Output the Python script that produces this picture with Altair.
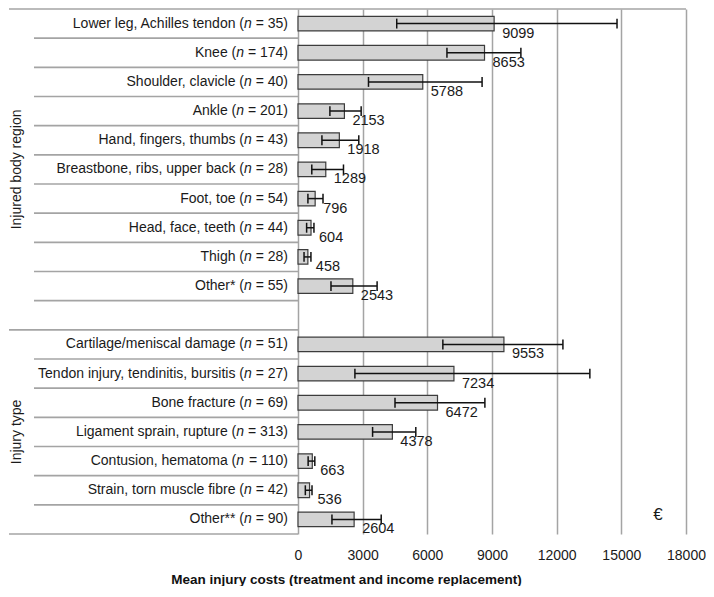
import altair as alt
import pandas as pd

# ---------------- data ----------------
body_regions = ["Lower leg, Achilles tendon", "Knee", "Shoulder, clavicle", "Ankle",
                "Hand, fingers, thumbs", "Breastbone, ribs, upper back", "Foot, toe",
                "Head, face, teeth", "Thigh", "Other*"]
body_n = [35, 174, 40, 201, 43, 28, 54, 44, 28, 55]
body_mean = [9099, 8653, 5788, 2153, 1918, 1289, 796, 604, 458, 2543]
body_lo = [4580, 6910, 3270, 1480, 1110, 640, 460, 400, 280, 1530]
body_hi = [14800, 10340, 8540, 2930, 2820, 2110, 1160, 740, 600, 3670]

injury_types = ["Cartilage/meniscal damage", "Tendon injury, tendinitis, bursitis",
                "Bone fracture", "Ligament sprain, rupture", "Contusion, hematoma",
                "Strain, torn muscle fibre", "Other**"]
type_n = [51, 27, 69, 313, 110, 42, 90]
type_mean = [9553, 7234, 6472, 4378, 663, 536, 2604]
type_lo = [6720, 2640, 4500, 3460, 470, 340, 1575]
type_hi = [12290, 13540, 8670, 5465, 780, 650, 3860]

group_titles = ["Injured body region", "Injury type"]
x_ticks = [0, 3000, 6000, 9000, 12000, 15000, 18000]
axis_title = "Mean injury costs (treatment and income replacement)"

# ---------------- layout / style ----------------
FONT = "Liberation Sans"
FS = 14
W, H = 388, 525
XMAX = 18000
GRID = "#a4a4a4"
TXT = "#1a1a1a"
N1 = len(body_regions)
START2 = N1 + 1               # one blank row between the two groups
NROWS = START2 + len(injury_types)
X0 = -10                      # right end of row labels, px left of the axis
LEFT = -289                   # left end of the group lines, px left of the axis


def px(v):
    """pixel offset from the axis -> x data units (linear scale extrapolates)"""
    return v * XMAX / W


rows = []


def add(labels, ns, means, los, his, start):
    for i, (lab, n, m, lo, hi) in enumerate(zip(labels, ns, means, los, his)):
        r = start + i
        k = len(str(n))
        w_suffix = (584 + 278 + 556 * k + 333) * FS / 1000   # "= NN)" Arial metrics
        x_n = X0 - w_suffix - 278 * FS / 1000
        x_pre = x_n - 556 * FS / 1000
        rows.append(dict(row=r, prefix=f"{lab} (", suffix=f"= {n})", mean=m, lo=lo, hi=hi,
                         zero=0, yc=r + 0.5, y0=r + 0.25, y1=r + 0.75,
                         c0=r + 0.5 - 0.17, c1=r + 0.5 + 0.17,
                         x_suf=px(X0), x_n=px(x_n), x_pre=px(x_pre)))


add(body_regions, body_n, body_mean, body_lo, body_hi, 0)
add(injury_types, type_n, type_mean, type_lo, type_hi, START2)
df = pd.DataFrame(rows)

short_b = [b for b in range(1, NROWS) if b != START2]
long_b = [START2, NROWS]
grp_df = pd.DataFrame({"g": group_titles,
                       "mid": [(0 + START2) / 2, (START2 + NROWS) / 2]})

xs = alt.Scale(domain=[0, XMAX], nice=False, zero=True)
ys = alt.Scale(domain=[0, NROWS], reverse=True, nice=False, zero=False)

xaxis = alt.Axis(values=x_ticks, grid=True, gridColor=GRID, gridWidth=1.5,
                 domain=False, ticks=False, labelFont=FONT, labelFontSize=14,
                 labelColor=TXT, labelPadding=14, labelFlush=False, format="d",
                 title=axis_title, titleFont=FONT, titleFontSize=13.5,
                 titleFontWeight="bold", titleColor="#111111", titleX=48, titleY=38,
                 titleAlign="center", titleBaseline="top", titleAnchor="start")

base = alt.Chart(df)

bars = base.mark_rect(fill="#d3d3d3", stroke="#3c3c3c", strokeWidth=1.2).encode(
    x=alt.X("zero:Q", scale=xs, axis=xaxis), x2="mean:Q",
    y=alt.Y("y0:Q", scale=ys, axis=None), y2="y1:Q")

err = base.mark_rule(color="#111111", strokeWidth=1.5).encode(
    x="lo:Q", x2="hi:Q", y="yc:Q")
cap_lo = base.mark_rule(color="#111111", strokeWidth=1.5).encode(
    x="lo:Q", y="c0:Q", y2="c1:Q")
cap_hi = base.mark_rule(color="#111111", strokeWidth=1.5).encode(
    x="hi:Q", y="c0:Q", y2="c1:Q")

vals = base.mark_text(align="left", baseline="middle", dx=8, dy=10, font=FONT,
                      fontSize=14.5, color=TXT).encode(
    x="mean:Q", y="yc:Q", text=alt.Text("mean:Q", format="d"))

t_pre = base.mark_text(align="right", baseline="middle", font=FONT, fontSize=FS,
                       color=TXT).encode(x="x_pre:Q", y="yc:Q", text="prefix:N")
t_n = base.mark_text(align="right", baseline="middle", font=FONT, fontSize=FS,
                     fontStyle="italic", color=TXT).encode(
    x="x_n:Q", y="yc:Q", text=alt.value("n"))
t_suf = base.mark_text(align="right", baseline="middle", font=FONT, fontSize=FS,
                       color=TXT).encode(x="x_suf:Q", y="yc:Q", text="suffix:N")

short_lines = alt.Chart(pd.DataFrame({"b": short_b})).mark_rule(
    color=GRID, strokeWidth=1.6).encode(
    x=alt.value(LEFT + 25), x2=alt.value(0), y=alt.Y("b:Q", scale=ys))
long_lines = alt.Chart(pd.DataFrame({"b": long_b})).mark_rule(
    color=GRID, strokeWidth=1.6).encode(
    x=alt.value(LEFT), x2=alt.value(0), y=alt.Y("b:Q", scale=ys))
top_line = alt.Chart(pd.DataFrame({"b": [0]})).mark_rule(
    color=GRID, strokeWidth=1.6).encode(
    x=alt.value(LEFT), x2=alt.value(W), y=alt.Y("b:Q", scale=ys))

grp = alt.Chart(grp_df).mark_text(angle=270, align="center", baseline="middle",
                                  font=FONT, fontSize=FS, color=TXT).encode(
    x=alt.value(LEFT + 8), y=alt.Y("mid:Q", scale=ys), text="g:N")

euro = alt.Chart(pd.DataFrame({"t": ["€"]})).mark_text(
    align="center", baseline="middle", font=FONT, fontSize=17, color=TXT).encode(
    x=alt.datum(16700), y=alt.datum(NROWS - 0.65), text="t:N")

chart = alt.layer(
    bars, short_lines, long_lines, top_line, err, cap_lo, cap_hi, vals,
    t_pre, t_n, t_suf, grp, euro
).properties(
    width=W, height=H,
    padding={"left": 0, "right": 0, "top": 0, "bottom": 0},
).configure_view(stroke=None)

chart.save("out.html", embed_options={"renderer": "svg", "actions": False})
